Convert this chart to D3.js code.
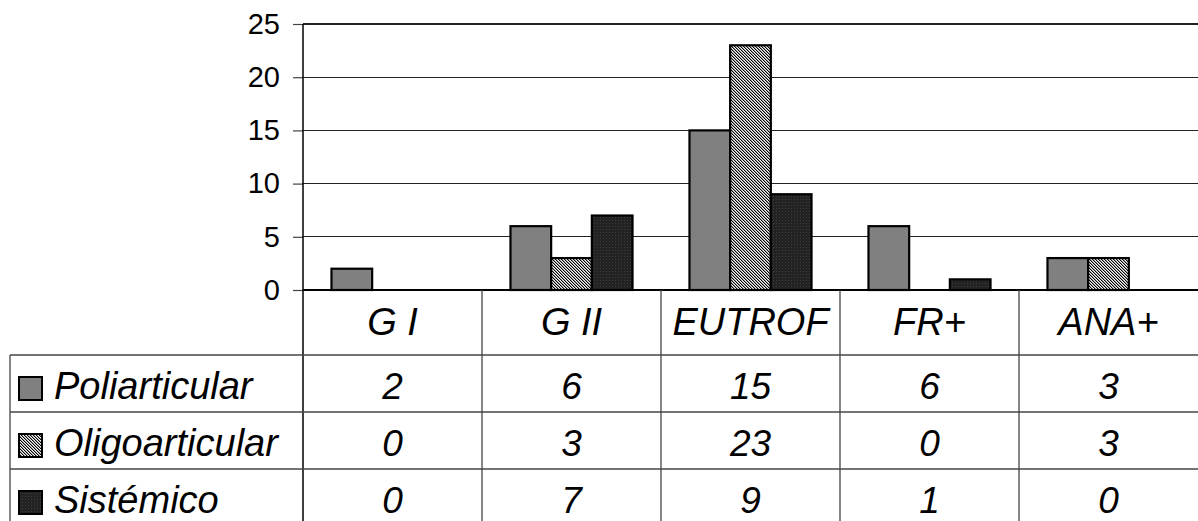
<!DOCTYPE html>
<html>
<head>
<meta charset="utf-8">
<script src="https://cdn.jsdelivr.net/npm/d3@7"></script>
<style>
  html, body { margin: 0; padding: 0; background: #fff; }
  svg { display: block; font-family: "Liberation Sans", Arial, sans-serif; }
</style>
</head>
<body>
<svg id="chart" width="1198" height="521"></svg>
<script>
// Categories and series values
const categories = ["G I", "G II", "EUTROF", "FR+", "ANA+"];
const seriesNames = ["Poliarticular", "Oligoarticular", "Sistémico"];
const poliarticular = [2, 6, 15, 6, 3];
const oligoarticular = [0, 3, 23, 0, 3];
const sistemico = [0, 7, 9, 1, 0];
const yTicks = [0, 5, 10, 15, 20, 25];

const seriesValues = [poliarticular, oligoarticular, sistemico];

const svg = d3.select("#chart");
const W = 1198;
const FONT = "'Liberation Sans', Arial, sans-serif";

// Plot geometry
const plotLeft = 303, plotRight = 1198, plotTop = 24, plotBottom = 290;
const tableLeft = 10;
const catRowBottom = 355;
const rowH = 57;

// Fill patterns for the three series
const defs = svg.append("defs");
const pOligo = defs.append("pattern").attr("id", "pat-oligo")
  .attr("patternUnits", "userSpaceOnUse").attr("width", 3).attr("height", 3);
const oligoShades = ["#000", "#9a9a9a", "#f4f4f4"];
for (let yy = 0; yy < 3; yy++) {
  for (let xx = 0; xx < 3; xx++) {
    const m = ((xx - yy) % 3 + 3) % 3;
    pOligo.append("rect").attr("x", xx).attr("y", yy).attr("width", 1).attr("height", 1)
      .attr("fill", oligoShades[m]).attr("shape-rendering", "crispEdges");
  }
}
const pSis = defs.append("pattern").attr("id", "pat-sis")
  .attr("patternUnits", "userSpaceOnUse").attr("width", 3).attr("height", 3);
pSis.append("rect").attr("width", 3).attr("height", 3).attr("fill", "#232323");
pSis.append("rect").attr("x", 1).attr("y", 1).attr("width", 1).attr("height", 1).attr("fill", "#3c3c3c");

const fills = ["#808080", "url(#pat-oligo)", "url(#pat-sis)"];

// Scales
const x0 = d3.scaleBand().domain(categories).range([plotLeft, plotRight]).padding(0);
const x1 = d3.scaleBand().domain(seriesNames).range([0, x0.bandwidth()])
  .paddingInner(0).paddingOuter(0.7);
const y = d3.scaleLinear().domain([0, 25]).range([plotBottom, plotTop]);

// Gridlines
svg.append("g").selectAll("line").data(yTicks.filter(t => t > 0)).join("line")
  .attr("x1", plotLeft).attr("x2", plotRight)
  .attr("y1", d => y(d)).attr("y2", d => y(d))
  .attr("stroke", "#222").attr("stroke-width", 1.2).attr("shape-rendering", "crispEdges");

// Y axis
const yAxis = d3.axisLeft(y).tickValues(yTicks).tickSize(10).tickPadding(13);
const gy = svg.append("g").attr("transform", `translate(${plotLeft},0)`).call(yAxis);
gy.attr("font-family", FONT).attr("font-size", 29);
gy.select(".domain").remove();
gy.selectAll(".tick line").attr("stroke", "#444").attr("stroke-width", 1.2);
gy.selectAll(".tick text").attr("fill", "#000");

// Bars
const groups = svg.append("g").selectAll("g").data(categories).join("g")
  .attr("transform", d => `translate(${x0(d)},0)`);
groups.selectAll("rect")
  .data((c, i) => seriesNames.map((s, k) => ({ s, k, v: seriesValues[k][i] })).filter(d => d.v > 0))
  .join("rect")
  .attr("x", d => x1(d.s))
  .attr("y", d => y(d.v))
  .attr("width", x1.bandwidth())
  .attr("height", d => y(0) - y(d.v))
  .attr("fill", d => fills[d.k])
  .attr("stroke", "#000").attr("stroke-width", 2.2);

// Vertical axis line and zero baseline
svg.append("line").attr("x1", plotLeft).attr("x2", plotLeft).attr("y1", plotTop).attr("y2", 521)
  .attr("stroke", "#000").attr("stroke-width", 1.5);
svg.append("line").attr("x1", plotLeft).attr("x2", plotRight).attr("y1", plotBottom).attr("y2", plotBottom)
  .attr("stroke", "#000").attr("stroke-width", 2.2);

// Data table
const table = svg.append("g").attr("font-family", FONT);
// column separators
table.selectAll("line.col").data(categories.slice(1)).join("line").attr("class", "col")
  .attr("x1", d => x0(d)).attr("x2", d => x0(d))
  .attr("y1", plotBottom).attr("y2", 521)
  .attr("stroke", "#444").attr("stroke-width", 1.3);
// row separators
const rowTops = seriesNames.map((s, k) => catRowBottom + k * rowH);
table.selectAll("line.row").data(rowTops).join("line").attr("class", "row")
  .attr("x1", tableLeft).attr("x2", W)
  .attr("y1", d => d).attr("y2", d => d)
  .attr("stroke", "#444").attr("stroke-width", 1.3);
table.append("line").attr("x1", tableLeft).attr("x2", tableLeft)
  .attr("y1", catRowBottom).attr("y2", 521)
  .attr("stroke", "#444").attr("stroke-width", 1.3);

// category labels
table.selectAll("text.cat").data(categories).join("text").attr("class", "cat")
  .attr("x", d => x0(d) + x0.bandwidth() / 2).attr("y", plotBottom + 45)
  .attr("text-anchor", "middle").attr("font-size", 38).attr("font-style", "italic")
  .text(d => d);

// series rows
seriesNames.forEach((s, k) => {
  const top = rowTops[k];
  table.append("rect").attr("x", 19).attr("y", top + 22).attr("width", 23).attr("height", 23)
    .attr("fill", fills[k]).attr("stroke", "#000").attr("stroke-width", 2);
  table.append("text").attr("x", 54).attr("y", top + 44)
    .attr("font-size", 38).attr("font-style", "italic").text(s);
  table.selectAll(null).data(categories).join("text")
    .attr("x", d => x0(d) + x0.bandwidth() / 2).attr("y", top + 44)
    .attr("text-anchor", "middle").attr("font-size", 37).attr("font-style", "italic")
    .text((d, i) => seriesValues[k][i]);
});
</script>
</body>
</html>
